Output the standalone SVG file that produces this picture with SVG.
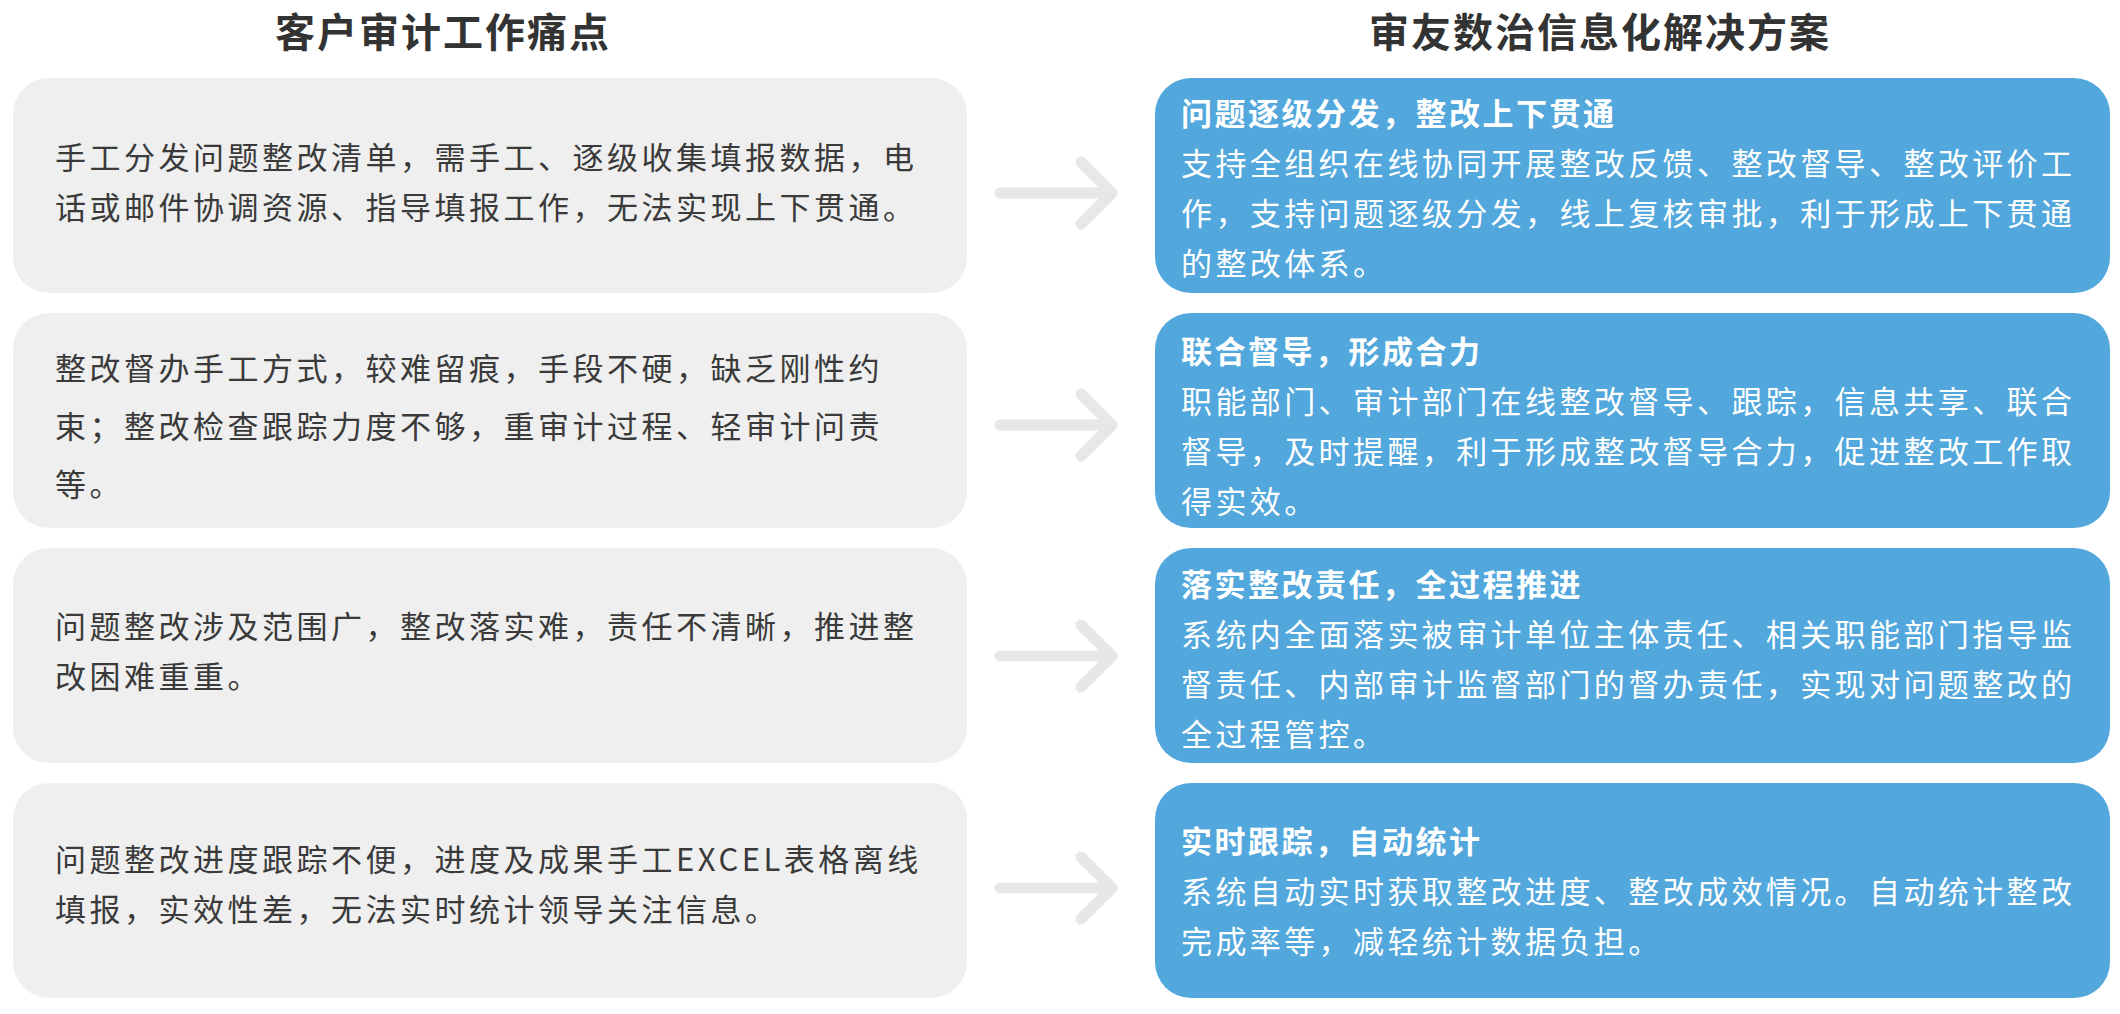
<svg xmlns="http://www.w3.org/2000/svg" width="2120" height="1014" viewBox="0 0 2120 1014">
<style>
.hd{font-family:"Noto Sans CJK SC","Noto Sans",sans-serif;font-size:40px;font-weight:700;fill:#333333;letter-spacing:2px;text-anchor:middle}
.pb{fill:#efefef}
.sb{fill:#52a7dc}
.pt{font-family:"Noto Sans CJK SC","Noto Sans",sans-serif;font-size:31px;fill:#3a3a3a;letter-spacing:3.5px}
.st{font-family:"Noto Sans CJK SC","Noto Sans",sans-serif;font-size:31px;font-weight:700;fill:#ffffff;letter-spacing:2.5px}
.sx{font-family:"Noto Sans CJK SC","Noto Sans",sans-serif;font-size:31px;fill:#ffffff;letter-spacing:3.4px}
.ar{fill:none;stroke:#e6e7e8;stroke-width:11;stroke-linecap:round;stroke-linejoin:round}
</style>
<rect width="2120" height="1014" fill="#ffffff"/>
<g id="headers">
<text class="hd" x="443" y="47">客户审计工作痛点</text>
<text class="hd" x="1600" y="47">审友数治信息化解决方案</text>
</g>
<g id="pain1">
<rect class="pb" x="13" y="78" width="954" height="215" rx="36"/>
<text class="pt" x="55" y="169">手工分发问题整改清单，需手工、逐级收集填报数据，电</text>
<text class="pt" x="55" y="219">话或邮件协调资源、指导填报工作，无法实现上下贯通。</text>
</g>
<g id="pain2">
<rect class="pb" x="13" y="313" width="954" height="215" rx="36"/>
<text class="pt" x="55" y="380">整改督办手工方式，较难留痕，手段不硬，缺乏刚性约</text>
<text class="pt" x="55" y="438">束；整改检查跟踪力度不够，重审计过程、轻审计问责</text>
<text class="pt" x="55" y="496">等。</text>
</g>
<g id="pain3">
<rect class="pb" x="13" y="548" width="954" height="215" rx="36"/>
<text class="pt" x="55" y="638">问题整改涉及范围广，整改落实难，责任不清晰，推进整</text>
<text class="pt" x="55" y="688">改困难重重。</text>
</g>
<g id="pain4">
<rect class="pb" x="13" y="783" width="954" height="215" rx="36"/>
<text class="pt" x="55" y="871">问题整改进度跟踪不便，进度及成果手工EXCEL表格离线</text>
<text class="pt" x="55" y="921">填报，实效性差，无法实时统计领导关注信息。</text>
</g>
<g id="sol1">
<rect class="sb" x="1155" y="78" width="955" height="215" rx="36"/>
<text class="st" x="1181" y="125">问题逐级分发，整改上下贯通</text>
<text class="sx" x="1181" y="175">支持全组织在线协同开展整改反馈、整改督导、整改评价工</text>
<text class="sx" x="1181" y="225">作，支持问题逐级分发，线上复核审批，利于形成上下贯通</text>
<text class="sx" x="1181" y="275">的整改体系。</text>
</g>
<g id="sol2">
<rect class="sb" x="1155" y="313" width="955" height="215" rx="36"/>
<text class="st" x="1181" y="363">联合督导，形成合力</text>
<text class="sx" x="1181" y="413">职能部门、审计部门在线整改督导、跟踪，信息共享、联合</text>
<text class="sx" x="1181" y="463">督导，及时提醒，利于形成整改督导合力，促进整改工作取</text>
<text class="sx" x="1181" y="513">得实效。</text>
</g>
<g id="sol3">
<rect class="sb" x="1155" y="548" width="955" height="215" rx="36"/>
<text class="st" x="1181" y="596">落实整改责任，全过程推进</text>
<text class="sx" x="1181" y="646">系统内全面落实被审计单位主体责任、相关职能部门指导监</text>
<text class="sx" x="1181" y="696">督责任、内部审计监督部门的督办责任，实现对问题整改的</text>
<text class="sx" x="1181" y="746">全过程管控。</text>
</g>
<g id="sol4">
<rect class="sb" x="1155" y="783" width="955" height="215" rx="36"/>
<text class="st" x="1181" y="853">实时跟踪，自动统计</text>
<text class="sx" x="1181" y="903">系统自动实时获取整改进度、整改成效情况。自动统计整改</text>
<text class="sx" x="1181" y="953">完成率等，减轻统计数据负担。</text>
</g>
<g id="connectors">
<path class="ar" d="M1000,193 H1112 M1081,162 L1112,193 L1081,224"/>
<path class="ar" d="M1000,425 H1112 M1081,394 L1112,425 L1081,456"/>
<path class="ar" d="M1000,656 H1112 M1081,625 L1112,656 L1081,687"/>
<path class="ar" d="M1000,888 H1112 M1081,857 L1112,888 L1081,919"/>
</g>
</svg>
